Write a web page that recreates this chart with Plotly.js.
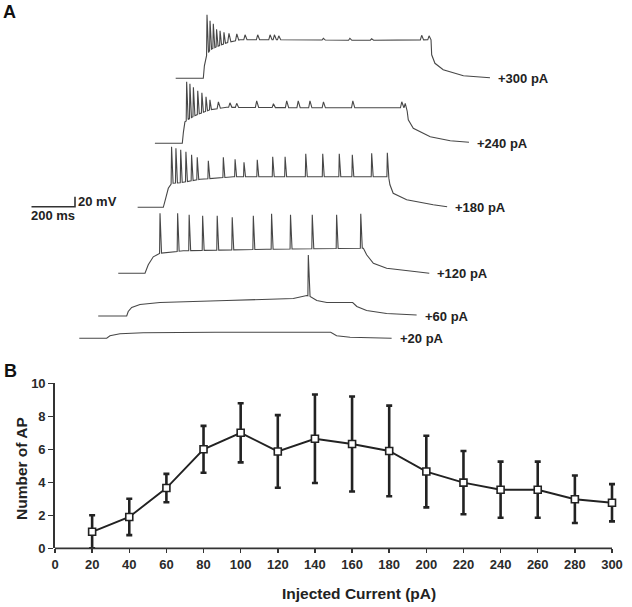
<!DOCTYPE html>
<html>
<head>
<meta charset="utf-8">
<script src="https://cdn.plot.ly/plotly-3.0.1.min.js"></script>
<style>html,body{margin:0;padding:0;background:#fff;}#chart{width:632px;height:607px;}</style>
</head>
<body>
<div id="chart"></div>
<script>
// ---------- Panel B data ----------
const currentPA = [20, 40, 60, 80, 100, 120, 140, 160, 180, 200, 220, 240, 260, 280, 300];
const meanAP    = [1.0, 1.9, 3.65, 6.0, 7.0, 5.87, 6.64, 6.32, 5.9, 4.65, 3.98, 3.55, 3.55, 2.97, 2.76];
const sdAP      = [1.0, 1.1, 0.86, 1.42, 1.79, 2.2, 2.68, 2.88, 2.75, 2.17, 1.92, 1.7, 1.7, 1.44, 1.13];
const xTicks = [0, 20, 40, 60, 80, 100, 120, 140, 160, 180, 200, 220, 240, 260, 280, 300];
const yTicks = [0, 2, 4, 6, 8, 10];

// ---------- Panel A data (time in ms from step onset, voltage in mV from baseline) ----------
const stepLabels = ['+300 pA', '+240 pA', '+180 pA', '+120 pA', '+60 pA', '+20 pA'];

const env300T = [-127, 0, 5, 12, 31, 61, 107, 169, 400, 700, 1047, 1050, 1065, 1103, 1196, 1318];
const env300V = [0, 0, 25, 43, 57, 63, 71, 77, 77, 76, 77, 47, 30, 17, 5, 1];
const spk300T = [17, 31, 46, 61, 77, 95, 118, 154, 192, 250, 307, 327, 347, 552, 674, 774, 1004, 1038];
const spk300V = [127, 115, 109, 98, 95, 92, 90, 89, 87, 87, 87, 87, 85, 80, 80, 79, 86, 85];

const env240T = [-126, 0, 5, 12, 35, 66, 127, 204, 600, 1032, 1039, 1062, 1140, 1232, 1318];
const env240V = [0, 0, 22, 43, 50, 57, 67, 72, 71, 71, 47, 30, 13, 5, 2];
const spk240T = [20, 35, 51, 71, 90, 109, 127, 166, 219, 250, 342, 419, 480, 533, 587, 649, 784, 1009, 1025];
const spk240V = [123, 119, 112, 105, 101, 93, 87, 83, 81, 80, 85, 79, 85, 85, 85, 83, 85, 83, 80];

const env180T = [-118, 0, 11, 23, 38, 77, 169, 322, 600, 1036, 1042, 1057, 1119, 1241, 1305];
const env180V = [0, 0, 18, 38, 48, 49, 56, 61, 61, 61, 45, 28, 15, 5, 1];
const spk180T = [38, 58, 80, 104, 130, 156, 207, 276, 330, 371, 432, 503, 560, 655, 733, 809, 869, 958, 1030];
const spk180V = [121, 118, 115, 111, 105, 100, 93, 100, 96, 90, 95, 101, 101, 107, 107, 107, 105, 108, 109];

const env120T = [-123, 0, 15, 38, 69, 176, 559, 988, 1004, 1019, 1050, 1111, 1249, 1307];
const env120V = [0, 0, 17, 33, 40, 45, 48, 50, 50, 37, 20, 10, 3, 0];
const spk120T = [69, 150, 203, 265, 332, 401, 498, 582, 669, 769, 881, 992];
const spk120V = [120, 120, 117, 115, 115, 112, 115, 119, 117, 117, 117, 119];

const env60T = [-131, 0, 7, 23, 61, 153, 460, 766, 828, 843, 874, 920, 1027, 1039, 1058, 1103, 1195, 1333];
const env60V = [0, 0, 9, 17, 23, 27, 31, 35, 41, 39, 31, 27, 27, 27, 19, 11, 5, 2];
const spk60T = [835];
const spk60V = [122];

const env20T = [-126, 0, 15, 61, 168, 500, 1030, 1057, 1119, 1310];
const env20V = [0, 0, 5, 9, 11, 12, 12, 5, 2, 0];
const spk20T = [];
const spk20V = [];

const scaleBarMs = 200;
const scaleBarMv = 20;

// ---------- layout helpers (positions) ----------
const W = 632, H = 607;
const PX_PER_MS = 0.2175, PX_PER_MV = 0.5;
const A_TOP_PX = 350; // panel A occupies pixel rows 0..350
const tracePos = [
  [203.3, 78.3], [182.3, 143.3], [163.3, 207.3], [145.0, 273.3], [126.7, 316.0], [106.7, 338.3]
];
const traceData = [
  [env300T, env300V, spk300T, spk300V],
  [env240T, env240V, spk240T, spk240V],
  [env180T, env180V, spk180T, spk180V],
  [env120T, env120V, spk120T, spk120V],
  [env60T, env60V, spk60T, spk60V],
  [env20T, env20V, spk20T, spk20V]
];

function buildTrace(envT, envV, spT, spV) {
  const interp = (t) => {
    for (let i = 0; i < envT.length - 1; i++) {
      if (t >= envT[i] && t <= envT[i + 1]) {
        const f = (t - envT[i]) / (envT[i + 1] - envT[i]);
        return envV[i] + f * (envV[i + 1] - envV[i]);
      }
    }
    return envV[envV.length - 1];
  };
  const shapes = spT.map((s, i) => {
    const amp = spV[i] - interp(s);
    return amp < 20 ? {rise: 6, fall: 9} : {rise: 2, fall: 7};
  });
  const pts = [];
  envT.forEach((t, i) => {
    if (!spT.some((s, j) => t > s - shapes[j].rise && t < s + shapes[j].fall)) pts.push([t, envV[i]]);
  });
  spT.forEach((s, i) => {
    const r = shapes[i].rise, f = shapes[i].fall;
    pts.push([s - r, interp(s - r)], [s, spV[i]], [s + f, interp(s + f)]);
  });
  pts.sort((a, b) => a[0] - b[0]);
  return pts;
}

const traceColor = '#474747';
const data = [];
const annotations = [];
const fontFam = 'Liberation Sans, Arial, sans-serif';

traceData.forEach((td, k) => {
  const onsetMs = tracePos[k][0] / PX_PER_MS;
  const baseMv = -tracePos[k][1] / PX_PER_MV;
  const pts = buildTrace(td[0], td[1], td[2], td[3]);
  data.push({
    x: pts.map(p => p[0] + onsetMs),
    y: pts.map(p => p[1] + baseMv),
    xaxis: 'x2', yaxis: 'y2', type: 'scatter', mode: 'lines',
    line: {color: traceColor, width: 1.1}, hoverinfo: 'skip'
  });
  const endT = td[0][td[0].length - 1];
  annotations.push({
    xref: 'x2', yref: 'y2', x: onsetMs + endT + 28, y: baseMv,
    text: '<b>' + stepLabels[k] + '</b>', showarrow: false,
    xanchor: 'left', yanchor: 'middle',
    font: {family: fontFam, size: 13, color: '#222'}
  });
});

// scale bar
const sbX = 75 / PX_PER_MS, sbY = -206.7 / PX_PER_MV;
data.push({
  x: [sbX - scaleBarMs, sbX, sbX], y: [sbY, sbY, sbY + scaleBarMv],
  xaxis: 'x2', yaxis: 'y2', type: 'scatter', mode: 'lines',
  line: {color: '#333', width: 1.6}, hoverinfo: 'skip'
});
annotations.push({
  xref: 'paper', yref: 'paper', x: 75.5 / W, y: (H - 201.5) / H,
  text: '<b>' + scaleBarMv + ' mV</b>', showarrow: false, xanchor: 'left', yanchor: 'middle',
  font: {family: fontFam, size: 13, color: '#222'}
});
annotations.push({
  xref: 'paper', yref: 'paper', x: 29 / W, y: (H - 215.5) / H,
  text: '<b>' + scaleBarMs + ' ms</b>', showarrow: false, xanchor: 'left', yanchor: 'middle',
  font: {family: fontFam, size: 13, color: '#222'}
});

// Panel B
data.push({
  x: currentPA, y: meanAP, type: 'scatter', mode: 'lines+markers',
  xaxis: 'x', yaxis: 'y', cliponaxis: false,
  line: {color: '#222', width: 1.9},
  marker: {symbol: 'square', size: 7, color: '#fff', line: {color: '#222', width: 1.6}},
  error_y: {type: 'data', array: sdAP, visible: true, color: '#222', thickness: 2.6, width: 3}
});

// panel letters & axis titles
annotations.push({xref: 'paper', yref: 'paper', x: 1 / W, y: (H - 12.5) / H, text: '<b>A</b>',
  showarrow: false, xanchor: 'left', yanchor: 'middle',
  font: {family: fontFam, size: 18, color: '#111'}});
annotations.push({xref: 'paper', yref: 'paper', x: 2 / W, y: (H - 371) / H, text: '<b>B</b>',
  showarrow: false, xanchor: 'left', yanchor: 'middle',
  font: {family: fontFam, size: 18, color: '#111'}});
annotations.push({xref: 'paper', yref: 'paper', x: 358.5 / W, y: (H - 593) / H,
  text: '<b>Injected Current (pA)</b>', showarrow: false, xanchor: 'center', yanchor: 'middle',
  font: {family: fontFam, size: 15.5, color: '#222'}});
annotations.push({xref: 'paper', yref: 'paper', x: 21 / W, y: (H - 469) / H,
  text: '<b>Number of AP</b>', showarrow: false, textangle: -90, xanchor: 'center', yanchor: 'middle',
  font: {family: fontFam, size: 15.5, color: '#222'}});

// x-axis baseline from 0 to 300 (range is padded so the last error cap is not clipped)
const xDomain = [55 / W, (55 + 557 * 304 / 300) / W];
const yDomain = [(H - 548.3) / H, (H - 383.3) / H];
const shapes = [{
  type: 'line', xref: 'x', yref: 'paper', x0: 0, x1: 300, y0: yDomain[0], y1: yDomain[0],
  line: {color: '#333', width: 1.8}
}];

const tickFont = {family: fontFam, size: 13, color: '#2a2a2a', weight: 'bold'};
const layout = {
  width: W, height: H,
  margin: {l: 0, r: 0, t: 0, b: 0},
  paper_bgcolor: '#fff', plot_bgcolor: 'rgba(0,0,0,0)',
  showlegend: false,
  xaxis: {
    domain: xDomain, range: [0, 304], anchor: 'y',
    tickvals: xTicks, ticktext: xTicks.map(String), ticks: 'outside', ticklen: 4, tickwidth: 1.5, tickcolor: '#333',
    showline: false, showgrid: false, zeroline: false,
    tickfont: tickFont, fixedrange: true
  },
  yaxis: {
    domain: yDomain, range: [0, 10], anchor: 'x',
    tickvals: yTicks, ticktext: yTicks.map(String), ticks: 'outside', ticklen: 5, tickwidth: 1.5, tickcolor: '#333',
    showline: true, linecolor: '#333', linewidth: 1.8, showgrid: false, zeroline: false,
    tickfont: tickFont, fixedrange: true
  },
  xaxis2: {
    domain: [0, 1], range: [0, W / PX_PER_MS], anchor: 'y2',
    visible: false, fixedrange: true
  },
  yaxis2: {
    domain: [(H - A_TOP_PX) / H, 1], range: [-A_TOP_PX / PX_PER_MV, 0], anchor: 'x2',
    visible: false, fixedrange: true
  },
  shapes: shapes,
  annotations: annotations
};

Plotly.newPlot('chart', data, layout, {displayModeBar: false, staticPlot: true});
</script>
</body>
</html>
